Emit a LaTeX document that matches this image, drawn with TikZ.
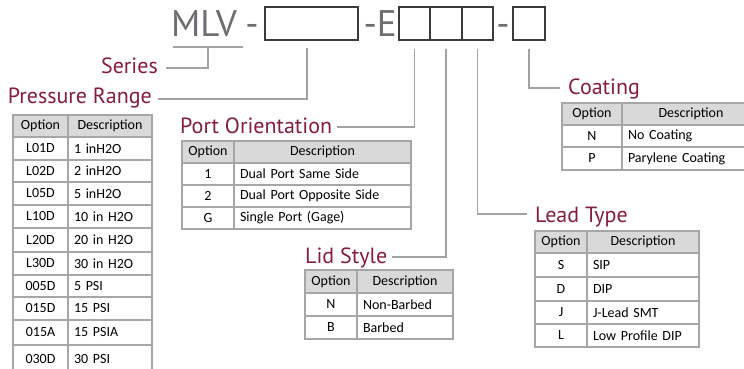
\documentclass[tikz,border=0pt]{standalone}
\usepackage{fontspec}
\setmainfont{Carlito}
\newfontfamily\labelfont{PT Sans}
\usetikzlibrary{calc}
\definecolor{maroon}{RGB}{134,28,64}
\definecolor{txtgray}{RGB}{109,110,113}
\definecolor{linegray}{RGB}{160,162,165}
\definecolor{bordgray}{RGB}{166,166,166}
\definecolor{headfill}{RGB}{217,217,217}
\definecolor{boxline}{RGB}{60,60,60}
\tikzset{
  lbl/.style={font=\labelfont\fontsize{22}{22}\selectfont, text=maroon, inner sep=0pt},
  big/.style={font=\labelfont\fontsize{37}{37}\selectfont, text=txtgray, inner sep=0pt},
  conn/.style={draw=linegray, line width=1.4pt},
  codebox/.style={draw=boxline, line width=1.3pt, minimum height=33pt, inner sep=0pt},
  cell/.style={draw=bordgray, line width=1.8pt, inner sep=0pt, font=\fontsize{14}{15}\selectfont, text=black},
  head/.style={cell, fill=headfill},
}
\newcommand\hrow[6]{%
  \node[head, minimum width=#3pt-#2pt, minimum height=#6pt-#5pt] (#1-ho) at ({(#2+#3)/2},{(#5+#6)/2}) {Option};
  \node[head, minimum width=#4pt-#3pt, minimum height=#6pt-#5pt] (#1-hd) at ({(#3+#4)/2},{(#5+#6)/2}) {Description};
}
\newcommand\drow[8]{%
  \pgfmathsetmacro\tw{#4-#3-12}%
  \node[cell, minimum width=#3pt-#2pt, minimum height=#6pt-#5pt] (#1o) at ({(#2+#3)/2},{(#5+#6)/2}) {#7};
  \node[cell, minimum width=#4pt-#3pt, minimum height=#6pt-#5pt, text width=\tw pt, inner xsep=6pt, align=left] (#1d) at ({(#3+#4)/2},{(#5+#6)/2}) {#8};
}
\begin{document}
\begin{tikzpicture}[x=1pt,y=-1pt]
\useasboundingbox (0,0) rectangle (744,369);
\clip (0,0) rectangle (744,369);
\fill[white] (0,0) rectangle (744,369);

% code line
\node[big, anchor=base west] (mlv) at (171,37) {MLV};
\node[big, anchor=base] (dash1) at (252,37) {-};
\node[codebox, minimum width=93pt] (b1) at (311.5,23.5) {};
\node[big, anchor=base east] (dashE) at (397,37) {-E};
\node[codebox, minimum width=31pt] (e1) at (414.5,23.5) {};
\node[codebox, minimum width=32pt] (e2) at (446,23.5) {};
\node[codebox, minimum width=31pt] (e3) at (477.5,23.5) {};
\node[big, anchor=base] (dash2) at (503,37) {-};
\node[codebox, minimum width=32pt] (c1) at (529,23.5) {};

% labels
\node[lbl, anchor=base east] (series) at (158,74) {Series};
\node[lbl, anchor=base east] (press) at (152,103) {Pressure Range};
\node[lbl, anchor=base west] (port) at (180,133) {Port Orientation};
\node[lbl, anchor=base west] (lid) at (305,263) {Lid Style};
\node[lbl, anchor=base west] (lead) at (535,222) {Lead Type};
\node[lbl, anchor=base west] (coat) at (568,95) {Coating};

% connectors
\coordinate (ul1) at (173,47);
\coordinate (ul2) at (243,47);
\coordinate (prtop) at (307,48);
\draw[conn] (ul1) -- (ul2);
\draw[conn] ($(ul1)!0.5!(ul2)$) |- ([xshift=8pt,yshift=6pt]series.base east);
\draw[conn] (prtop) |- ([xshift=6pt,yshift=4pt]press.base east);
\draw[conn] ([yshift=-8pt]e1.south) |- ([xshift=5pt,yshift=6pt]port.base east);
\draw[conn] ([yshift=-8pt]e2.south) |- ([xshift=5pt,yshift=6pt]lid.base east);
\draw[conn] ([yshift=-8pt]e3.south) |- ([xshift=-8pt,yshift=8pt]lead.base west);
\draw[conn] ([yshift=-8pt]c1.south) |- ([xshift=-8pt,yshift=7pt]coat.base west);

% Pressure Range table
\hrow{pr}{13}{68}{152}{115}{137}
\drow{pr1}{13}{68}{152}{137}{160}{L01D}{1 inH2O}
\drow{pr2}{13}{68}{152}{160}{182}{L02D}{2 inH2O}
\drow{pr3}{13}{68}{152}{182}{205}{L05D}{5 inH2O}
\drow{pr4}{13}{68}{152}{205}{228}{L10D}{10 in H2O}
\drow{pr5}{13}{68}{152}{228}{252}{L20D}{20 in H2O}
\drow{pr6}{13}{68}{152}{252}{275}{L30D}{30 in H2O}
\drow{pr7}{13}{68}{152}{275}{297}{005D}{5 PSI}
\drow{pr8}{13}{68}{152}{297}{320}{015D}{15 PSI}
\drow{pr9}{13}{68}{152}{320}{345}{015A}{15 PSIA}
\drow{pr10}{13}{68}{152}{345}{374}{030D}{30 PSI}

% Port Orientation table
\hrow{po}{182}{234}{411}{141}{163}
\drow{po1}{182}{234}{411}{163}{185}{1}{Dual Port Same Side}
\drow{po2}{182}{234}{411}{185}{207}{2}{Dual Port Opposite Side}
\drow{po3}{182}{234}{411}{207}{229}{G}{Single Port (Gage)}

% Lid Style table
\hrow{ls}{305}{357}{453}{270}{293}
\drow{ls1}{305}{357}{453}{293}{316}{N}{Non-Barbed}
\drow{ls2}{305}{357}{453}{316}{339}{B}{Barbed}

% Coating table
\hrow{ct}{562}{622}{760}{103}{125}
\drow{ct1}{562}{622}{760}{125}{147}{N}{No Coating}
\drow{ct2}{562}{622}{760}{147}{170}{P}{Parylene Coating}

% Lead Type table
\hrow{lt}{535}{587}{699}{231}{253}
\drow{lt1}{535}{587}{699}{253}{277}{S}{SIP}
\drow{lt2}{535}{587}{699}{277}{301}{D}{DIP}
\drow{lt3}{535}{587}{699}{301}{324}{J}{J-Lead SMT}
\drow{lt4}{535}{587}{699}{324}{347}{L}{Low Profile DIP}
\end{tikzpicture}
\end{document}
